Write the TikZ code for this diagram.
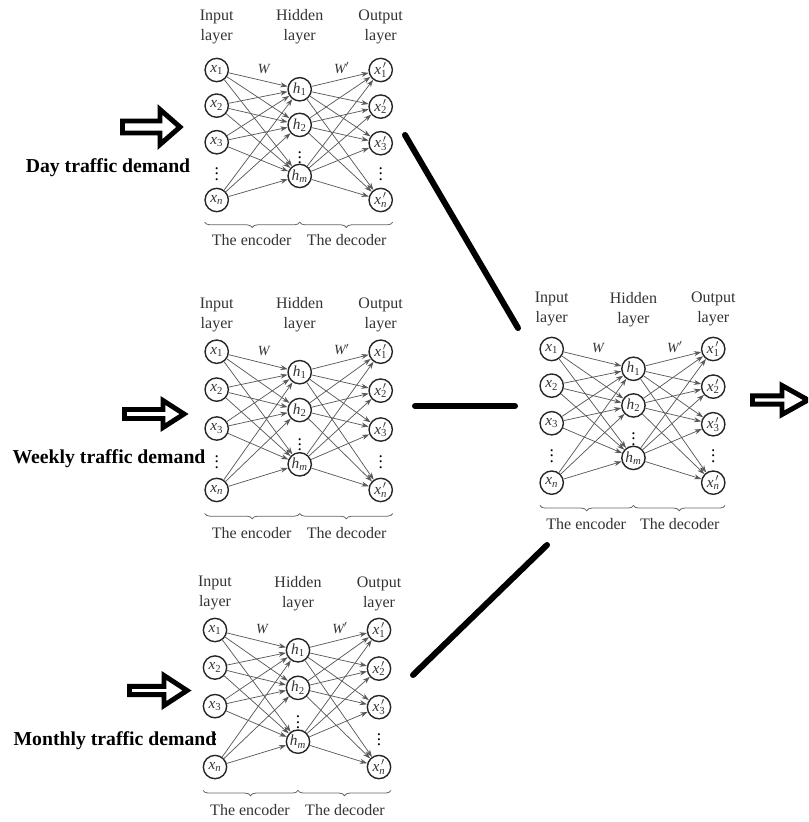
\documentclass[tikz,border=0pt]{standalone}
\usepackage{fontspec}
\setmainfont{Liberation Serif}
\usetikzlibrary{arrows.meta,decorations.pathreplacing}
\newcommand\nlab[2]{\textit{#1}\textsubscript{#2}}
\newcommand\olab[1]{\textit{x}\rlap{\textsuperscript{\,$\prime$}}\textsubscript{#1}}
\tikzset{
 neuron/.style={circle, draw=black!85, line width=1.05pt, minimum size=17.5pt, inner sep=0pt, font=\fontsize{11.5}{12}\selectfont, text=black!80},
 vdot/.style={inner sep=0pt, font=\fontsize{13}{13}\selectfont},
 link/.style={draw=black!65, line width=0.55pt, -{Stealth[length=5.5pt,width=3.8pt]}},
 wlab/.style={inner sep=0pt, font=\fontsize{10.5}{12}\selectfont\itshape, text=black!80},
 ltitle/.style={align=center, inner sep=0pt, font=\fontsize{12}{15}\selectfont, text=black!80},
 brc/.style={draw=black!60, line width=0.6pt, decorate, decoration={brace, amplitude=4pt}},
 captext/.style={inner sep=0pt, font=\fontsize{12}{14}\selectfont, text=black!80},
 demand/.style={inner sep=0pt, font=\fontsize{14.8}{17}\selectfont\bfseries},
 bigline/.style={line width=4.5pt, line cap=round, draw=black},
 hollow/.style={line width=3.7pt, line join=miter, draw=black, fill=white}
}
\newcommand\aeblock[6]{%
\begin{scope}[shift={(#2,#3)}, xscale=#4, yscale=#5]
 \node[neuron] (#1i1) at (0,0) {\nlab{x}{1}};
 \node[neuron] (#1i2) at (0,37) {\nlab{x}{2}};
 \node[neuron] (#1i3) at (0,75) {\nlab{x}{3}};
 \node[vdot] (#1id) at (0,104) {$\vdots$};
 \node[neuron] (#1i4) at (0,135) {\nlab{x}{\textit{n}}};
 \node[neuron] (#1h1) at (83,20) {\nlab{h}{1}};
 \node[neuron] (#1h2) at (83,57) {\nlab{h}{2}};
 \node[vdot] (#1hd) at (83,87) {$\vdots$};
 \node[neuron] (#1h3) at (83,110) {\nlab{h}{\textit{m}}};
 \node[neuron] (#1o1) at (164,0) {\olab{1}};
 \node[neuron] (#1o2) at (164,38) {\olab{2}};
 \node[neuron] (#1o3) at (164,76) {\olab{3}};
 \node[vdot] (#1od) at (164,104) {$\vdots$};
 \node[neuron] (#1o4) at (164,135) {\olab{\textit{n}}};
 \foreach \a in {1,...,4}{\foreach \b in {1,2,3}{
   \draw[link] (#1i\a) -- (#1h\b);
   \draw[link] (#1h\b) -- (#1o\a);}}
 \node[wlab] (#1W) at (47,-1) {W};
 \node[wlab] (#1Wp) at (125,-2) {W$'$};
 \node[ltitle] (#1ti) at (0,#6) {Input\\layer};
 \node[ltitle] (#1th) at (83,#6) {Hidden\\layer};
 \node[ltitle] (#1to) at (164,#6) {Output\\layer};
 \coordinate (#1b0) at (-12,158);
 \coordinate (#1b1) at (83,158);
 \coordinate (#1b2) at (176,158);
 \draw[brc] (#1b1) -- (#1b0);
 \draw[brc] (#1b2) -- (#1b1);
 \node[captext] (#1enc) at (35,177) {The encoder};
 \node[captext] (#1dec) at (130,177) {The decoder};
\end{scope}}
\begin{document}
\begin{tikzpicture}[x=0.75pt, y=-0.75pt]
\useasboundingbox (0,0) rectangle (808,822);
\clip (0,0) rectangle (808,822);
\aeblock{a}{216.7}{70}{1}{0.963}{-45}
\aeblock{b}{216.7}{351.7}{1}{1.024}{-36}
\aeblock{c}{215}{630}{1}{1.015}{-36}
\aeblock{d}{551.7}{349}{0.985}{0.99}{-40}
% hollow arrows
\draw[hollow] (122.5,121) -- (160,121) -- (160,109.5) -- (180,127) -- (160,144.5) -- (160,133) -- (122.5,133) -- cycle;
\draw[hollow] (124.5,409.5) -- (163,409.5) -- (163,400.5) -- (184,414) -- (163,427.5) -- (163,418.5) -- (124.5,418.5) -- cycle;
\draw[hollow] (129.5,686.3) -- (164,686.3) -- (164,675.5) -- (187,690.5) -- (164,705.5) -- (164,694.7) -- (129.5,694.7) -- cycle;
\draw[hollow] (752.5,395.8) -- (782,395.8) -- (782,385.5) -- (808,400) -- (782,414.5) -- (782,404.2) -- (752.5,404.2) -- cycle;
% labels
\node[demand] (day) at (108,168) {Day traffic demand};
\node[demand] (week) at (109,459) {Weekly traffic demand};
\node[demand] (month) at (115,741) {Monthly traffic demand};
% thick connectors
\coordinate (l1a) at (405,135);
\coordinate (l1b) at (518,328);
\coordinate (l2a) at (415,406);
\coordinate (l2b) at (515,406);
\coordinate (l3a) at (413,675);
\coordinate (l3b) at (547,545);
\draw[bigline] (l1a) -- (l1b);
\draw[bigline] (l2a) -- (l2b);
\draw[bigline] (l3a) -- (l3b);
\end{tikzpicture}
\end{document}
